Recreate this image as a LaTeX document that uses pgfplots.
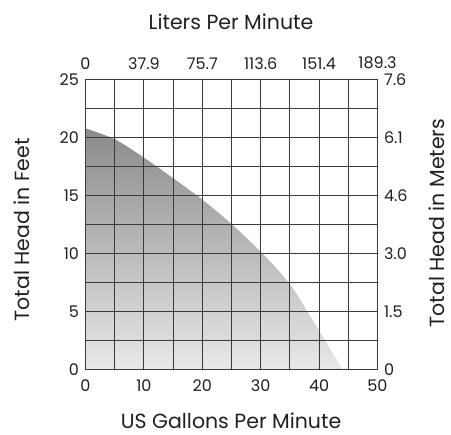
\documentclass[border=0pt]{standalone}
\usepackage{fontspec}
\setmainfont{Poppins}
\usepackage{pgfplots}
\pgfplotsset{compat=1.18}
\definecolor{txt}{HTML}{231F20}
\definecolor{gridc}{HTML}{3A3A3A}
\definecolor{topfill}{HTML}{8A8B8D}
\definecolor{botfill}{HTML}{E8E8EA}
\begin{document}
\begin{tikzpicture}
\useasboundingbox (0,0) rectangle (451pt,435pt);
\pgfplotsset{
  myax/.style={
    scale only axis, width=292pt, height=289.5pt,
    at={(85.5pt,65.7pt)}, anchor=south west,
    xmin=0, xmax=50, ymin=0, ymax=25,
    major tick length=0pt, minor tick length=0pt,
    tick label style={font=\fontsize{16}{16}\selectfont, text=txt},
    /pgf/number format/assume math mode=true,
    axis line style={gridc, line width=0.8pt},
  }
}
\begin{axis}[myax,
  axis on top,
  xtick={0,10,...,50}, minor xtick={5,15,...,45},
  ytick={0,5,...,25}, minor ytick={2.5,7.5,...,22.5},
  grid=both,
  major grid style={gridc, line width=0.8pt},
  minor grid style={gridc, line width=0.8pt},
  xticklabel style={yshift=-7pt},
  yticklabel style={xshift=-3pt},
]
\addplot[draw=none, top color=topfill, bottom color=botfill, smooth] coordinates {
  (0,20.8) (5,19.87) (10,18.28) (15,16.5) (20,14.65) (25,12.55) (30,10.15) (33,8.55) (35.5,7.0) (38,5) (41,2.5) (44,0)
} \closedcycle;
\end{axis}
\begin{axis}[myax,
  axis x line*=top, axis y line*=right,
  xtick={0,10,...,50}, xticklabels={0,37.9,75.7,113.6,151.4,189.3},
  ytick={0,5,...,25}, yticklabels={0,1.5,3.0,4.6,6.1,7.6},
  xticklabel style={yshift=7pt},
  yticklabel style={xshift=3pt},
]
\addplot[draw=none] coordinates {(0,0)};
\end{axis}
\tikzset{lab/.style={text=txt, inner sep=0pt, font=\fontsize{20.5}{20.5}\selectfont}}
\node[lab] at (231pt,413pt) {Liters Per Minute};
\node[lab] at (231pt,14pt) {US Gallons Per Minute};
\node[lab, rotate=90] at (22pt,205pt) {Total Head in Feet};
\node[lab, rotate=90] at (436.5pt,212pt) {Total Head in Meters};
\end{tikzpicture}
\end{document}
